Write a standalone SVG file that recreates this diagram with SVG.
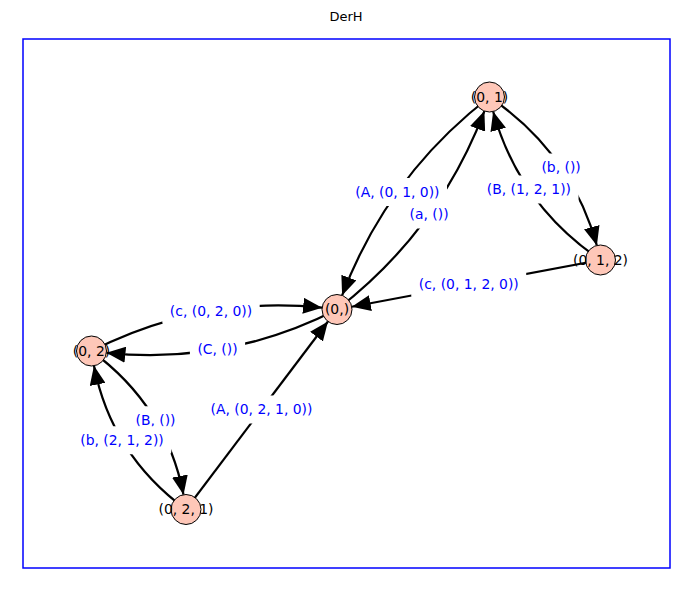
<svg xmlns="http://www.w3.org/2000/svg" width="693" height="589" viewBox="0 0 693 589">
  <style>
    .title { font-family: "DejaVu Sans", Verdana, sans-serif; font-size: 13px; fill: #000; text-anchor: middle; }
    .frame { fill: none; stroke: #0000ff; stroke-width: 1.5; }
    .edge { fill: none; stroke: #000; stroke-width: 2.2; marker-end: url(#arrow); }
    .lbox { fill: #fff; stroke: none; }
    .ltext { font-family: "DejaVu Sans", Verdana, sans-serif; font-size: 13.9px; fill: #0000ff; text-anchor: middle; }
    .vertex circle { fill: #fec7b8; stroke: #000; stroke-width: 1; }
    .vertex text { font-family: "DejaVu Sans", Verdana, sans-serif; font-size: 13.9px; fill: #000; text-anchor: middle; }
  </style>
  <defs>
    <marker id="arrow" markerUnits="userSpaceOnUse" markerWidth="19" markerHeight="16" viewBox="0 0 19 16" refX="19" refY="8" orient="auto">
      <path d="M0,0 L19,8 L0,16 z" fill="#000"/>
    </marker>
  </defs>

  <rect width="693" height="589" fill="#fff"/>
  <text class="title" x="346" y="20.5">DerH</text>
  <rect class="frame" x="23" y="39" width="647" height="529"/>

  <!-- edges: quadratic curves for paired edges, straight lines otherwise -->
  <g id="connectors">
    <path id="e-01-0" class="edge" d="M489.5,97 Q387.53,175.90 342.11,295.40"/>
    <path id="e-0-01" class="edge" d="M337,309.5 Q438.97,230.59 484.39,111.10"/>
    <path id="e-01-012" class="edge" d="M489.5,97 Q570.97,152.30 596.85,245.45"/>
    <path id="e-012-01" class="edge" d="M600.5,260 Q519.03,204.70 493.15,111.55"/>
    <path id="e-012-0" class="edge" d="M600.5,260 L351.74,306.73"/>
    <path id="e-02-0" class="edge" d="M91.5,351 Q201.03,295.22 322.10,307.71"/>
    <path id="e-0-02" class="edge" d="M337,309.5 Q227.47,365.28 106.40,352.79"/>
    <path id="e-02-021" class="edge" d="M91.5,351 Q166.14,405.78 183.53,494.71"/>
    <path id="e-021-02" class="edge" d="M186,509.5 Q111.36,454.72 93.97,365.79"/>
    <path id="e-021-0" class="edge" d="M186,509.5 L327.96,321.47"/>
  </g>

  <!-- edge labels on white boxes -->
  <g id="edge-labels">
    <rect class="lbox" x="347.8" y="177.9" width="99.2" height="28" rx="3"/>
    <text class="ltext" x="397.4" y="196.6">(A, (0, 1, 0))</text>
    <rect class="lbox" x="402.1" y="200.6" width="54" height="28" rx="3"/>
    <text class="ltext" x="429.1" y="219.3">(a, ())</text>
    <rect class="lbox" x="533.9" y="153.5" width="54.4" height="28" rx="3"/>
    <text class="ltext" x="561.1" y="172.2">(b, ())</text>
    <rect class="lbox" x="479.25" y="175.5" width="99.3" height="28" rx="3"/>
    <text class="ltext" x="528.9" y="194.2">(B, (1, 2, 1))</text>
    <rect class="lbox" x="411.25" y="270.75" width="115" height="28" rx="3"/>
    <text class="ltext" x="468.75" y="289.45">(c, (0, 1, 2, 0))</text>
    <rect class="lbox" x="162.3" y="297" width="97.4" height="28" rx="3"/>
    <text class="ltext" x="211" y="315.7">(c, (0, 2, 0))</text>
    <rect class="lbox" x="189.9" y="335.5" width="55.2" height="28" rx="3"/>
    <text class="ltext" x="217.5" y="354.2">(C, ())</text>
    <rect class="lbox" x="128" y="406.3" width="55" height="28" rx="3"/>
    <text class="ltext" x="155.5" y="425">(B, ())</text>
    <rect class="lbox" x="72.7" y="426.2" width="98.6" height="28" rx="3"/>
    <text class="ltext" x="122" y="444.9">(b, (2, 1, 2))</text>
    <rect class="lbox" x="203.05" y="395.5" width="116.9" height="28" rx="3"/>
    <text class="ltext" x="261.5" y="414.2">(A, (0, 2, 1, 0))</text>
  </g>

  <!-- vertices -->
  <g id="v-01" class="vertex">
    <circle cx="489.5" cy="97" r="15"/>
    <text x="489.5" y="101.7">(0, 1)</text>
  </g>
  <g id="v-012" class="vertex">
    <circle cx="600.5" cy="260" r="15"/>
    <text x="600.5" y="264.7">(0, 1, 2)</text>
  </g>
  <g id="v-0" class="vertex">
    <circle cx="337" cy="309.5" r="15"/>
    <text x="337" y="314.2">(0,)</text>
  </g>
  <g id="v-02" class="vertex">
    <circle cx="91.5" cy="351" r="15"/>
    <text x="91.5" y="355.7">(0, 2)</text>
  </g>
  <g id="v-021" class="vertex">
    <circle cx="186" cy="509.5" r="15"/>
    <text x="186" y="514.2">(0, 2, 1)</text>
  </g>
</svg>
